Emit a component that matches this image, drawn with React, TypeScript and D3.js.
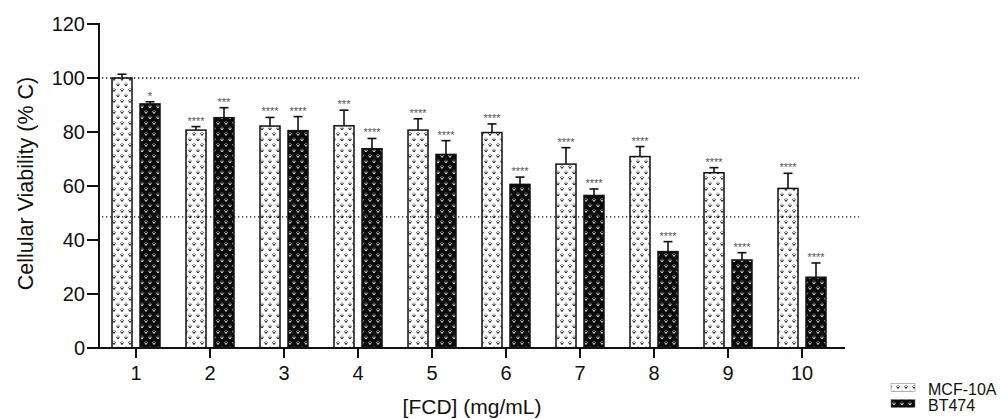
import React from "react";
import * as d3 from "d3";

const categories = ["1", "2", "3", "4", "5", "6", "7", "8", "9", "10"];
const seriesNames = ["MCF-10A", "BT474"];
const mcfValues = [100, 80.7, 82.2, 82.3, 80.7, 79.8, 68.1, 70.9, 64.9, 59.1];
const mcfErrors = [1.4, 1.3, 3.2, 5.8, 4.2, 3.2, 6.1, 3.7, 1.9, 5.6];
const btValues = [90.4, 85.3, 80.5, 73.8, 71.7, 60.6, 56.5, 35.7, 32.6, 26.2];
const btErrors = [0.8, 3.7, 5.2, 3.8, 5.1, 2.7, 2.4, 3.7, 2.7, 5.3];
const mcfStars = ["", "****", "****", "***", "****", "****", "****", "****", "****", "****"];
const btStars = ["*", "***", "****", "****", "****", "****", "****", "****", "****", "****"];
const yTicks = [0, 20, 40, 60, 80, 100, 120];
const refLines = [100, 48.6];

const W = 1003;
const H = 419;
const FONT = "Arial, 'Liberation Sans', Helvetica, sans-serif";

export default function App() {
  const y = d3.scaleLinear().domain([0, 120]).range([348, 24]);
  const x = d3.scaleBand().domain(categories).range([99, 839]).padding(0);
  const inner = d3.scaleBand().domain(seriesNames).range([-24, 24]).paddingInner(0.2857).paddingOuter(0);
  const bw = inner.bandwidth();

  const series = [
    { name: seriesNames[0], values: mcfValues, errors: mcfErrors, stars: mcfStars, fill: "url(#patLight)" },
    { name: seriesNames[1], values: btValues, errors: btErrors, stars: btStars, fill: "url(#patDark)" },
  ];

  const mark = (cx: number, cy: number) => `M${cx - 1.5},${cy - 1.2} L${cx},${cy + 1} L${cx + 1.5},${cy - 1.2}`;

  return (
    <svg width={W} height={H} style={{ position: "absolute", left: 0, top: 0, background: "#fff" }} fontFamily={FONT}>
      <defs>
        <pattern id="patLight" patternUnits="userSpaceOnUse" width={8} height={11}>
          <rect width={8} height={11} fill="#fff" />
          <path d={mark(2, 2.5) + " " + mark(6, 8)} stroke="#111" strokeWidth={1} fill="none" />
          <circle cx={2} cy={0.6} r={0.5} fill="#111" />
          <circle cx={6} cy={6.1} r={0.5} fill="#111" />
        </pattern>
        <pattern id="patDark" patternUnits="userSpaceOnUse" width={8} height={11}>
          <rect width={8} height={11} fill="#0a0a0a" />
          <path d={mark(2, 2.5) + " " + mark(6, 8)} stroke="#ddd" strokeWidth={1} fill="none" />
          <circle cx={2} cy={0.6} r={0.5} fill="#ddd" />
          <circle cx={6} cy={6.1} r={0.5} fill="#ddd" />
        </pattern>
      </defs>

      {/* bars */}
      {series.map((s) =>
        categories.map((c, i) => {
          const cx = (x(c) as number) + x.bandwidth() / 2;
          const bx = cx + (inner(s.name) as number);
          const top = y(s.values[i]);
          const errTop = y(s.values[i] + s.errors[i]);
          const mid = bx + bw / 2;
          return (
            <g key={s.name + c}>
              <line x1={mid} x2={mid} y1={top} y2={errTop} stroke="#111" strokeWidth={1.6} />
              <line x1={mid - 4.5} x2={mid + 4.5} y1={errTop} y2={errTop} stroke="#111" strokeWidth={1.6} />
              <rect x={bx} y={top} width={bw} height={y(0) - top} fill={s.fill} stroke="#111" strokeWidth={1.5} />
              {s.stars[i] && (
                <text x={mid} y={errTop - 2} textAnchor="middle" fontSize={11} fill="#555">
                  {s.stars[i]}
                </text>
              )}
            </g>
          );
        })
      )}

      {/* reference lines */}
      {refLines.map((v) => (
        <line key={v} x1={102} x2={859} y1={y(v)} y2={y(v)} stroke="#111" strokeWidth={1.3} strokeDasharray="1.3 2.7" />
      ))}

      {/* y axis */}
      <line x1={99} x2={99} y1={y(120) - 1} y2={y(0) + 1} stroke="#111" strokeWidth={2} />
      {yTicks.map((t) => (
        <g key={t}>
          <line x1={87} x2={99} y1={y(t)} y2={y(t)} stroke="#111" strokeWidth={2} />
          <text x={85} y={y(t)} dy="0.36em" textAnchor="end" fontSize={20} fill="#111">
            {t}
          </text>
        </g>
      ))}

      {/* x axis */}
      <line x1={98} x2={845} y1={y(0)} y2={y(0)} stroke="#111" strokeWidth={2} />
      {categories.map((c) => {
        const cx = (x(c) as number) + x.bandwidth() / 2;
        return (
          <g key={c}>
            <line x1={cx} x2={cx} y1={y(0)} y2={y(0) + 10} stroke="#111" strokeWidth={2} />
            <text x={cx} y={380} textAnchor="middle" fontSize={20} fill="#111">
              {c}
            </text>
          </g>
        );
      })}

      {/* axis titles */}
      <text x={472} y={414} textAnchor="middle" fontSize={21} fill="#111">
        [FCD] (mg/mL)
      </text>
      <text transform={`translate(33,${183.5}) rotate(-90)`} textAnchor="middle" fontSize={21.5} fill="#111">
        Cellular Viability (% C)
      </text>

      {/* legend */}
      {series.map((s, i) => (
        <g key={s.name}>
          <rect x={891} y={383.5 + i * 16} width={24} height={8} fill={s.fill} stroke="#777" strokeWidth={0.5} />
          <text x={928} y={394.5 + i * 16} fontSize={16} fill="#111">
            {s.name}
          </text>
        </g>
      ))}
    </svg>
  );
}
